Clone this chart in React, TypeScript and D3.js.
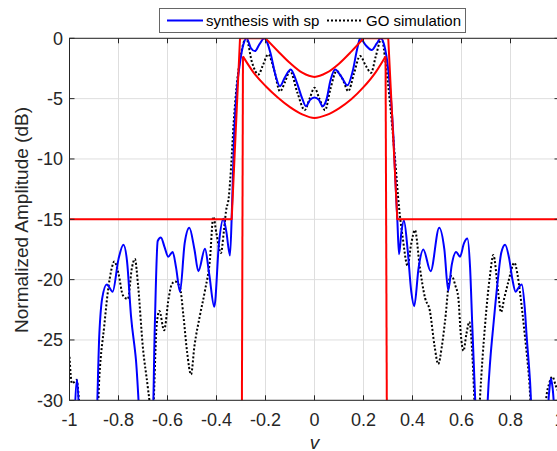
import React from "react";
import * as d3 from "d3";

// tick values
const xTicks = [-1, -0.8, -0.6, -0.4, -0.2, 0, 0.2, 0.4, 0.6, 0.8, 1];
const yTicks = [-30, -25, -20, -15, -10, -5, 0];

// synthesis with sp (v, dB)
const synthesis: [number, number][] = [
  [-0.982, -33], [-0.969, -28.3], [-0.955, -33],
  [-0.893, -33], [-0.878, -24.4], [-0.867, -21.6], [-0.848, -20.4], [-0.824, -21.0],
  [-0.8, -18.3], [-0.78, -17.1], [-0.765, -18.5], [-0.749, -23.0], [-0.729, -26.6], [-0.705, -33],
  [-0.662, -33], [-0.652, -24], [-0.64, -16.8], [-0.627, -16.5], [-0.612, -17.3], [-0.597, -18.1],
  [-0.579, -17.7], [-0.565, -19], [-0.549, -21.0], [-0.53, -17], [-0.511, -15.7], [-0.49, -17.5],
  [-0.474, -19.3], [-0.447, -17.45], [-0.43, -19.5], [-0.409, -22.25], [-0.39, -17], [-0.372, -14.96],
  [-0.36, -16], [-0.345, -18.0], [-0.336, -13.5], [-0.328, -8], [-0.316, -4], [-0.304, -2],
  [-0.29, -0.5], [-0.277, 0], [-0.26, -0.8], [-0.243, -1.06], [-0.225, -0.5], [-0.205, 0],
  [-0.18, -1.2], [-0.16, -3.0], [-0.141, -3.97], [-0.12, -3.2], [-0.097, -2.58], [-0.075, -3.5],
  [-0.05, -5.0], [-0.035, -5.63], [-0.018, -5.1], [0, -4.9], [0.018, -5.1], [0.033, -5.63],
  [0.05, -5.0], [0.065, -3.5], [0.084, -2.58], [0.11, -3.2], [0.134, -3.9], [0.155, -2.8],
  [0.175, -0.8], [0.186, 0], [0.21, -0.6], [0.233, -0.97], [0.255, -0.4], [0.27, 0],
  [0.285, -0.6], [0.301, -2.6], [0.312, -5], [0.322, -8.1], [0.333, -13], [0.338, -15],
  [0.345, -17.9], [0.355, -16], [0.365, -15.1], [0.38, -17.5], [0.395, -21], [0.407, -22.2],
  [0.425, -19], [0.444, -17.5], [0.474, -19.3], [0.509, -15.7], [0.53, -17.5], [0.546, -20.9],
  [0.56, -18.8], [0.578, -17.7], [0.594, -18.1], [0.61, -17.0], [0.624, -16.6], [0.635, -19],
  [0.644, -23.8], [0.656, -30], [0.665, -34],
  [0.7, -34], [0.707, -30], [0.718, -26.5], [0.73, -23.8], [0.75, -19.7], [0.762, -17.8],
  [0.778, -17.1], [0.795, -18.3], [0.808, -20.0], [0.821, -21.0], [0.835, -20.6], [0.846, -20.4],
  [0.858, -22.3], [0.866, -24.7], [0.88, -28.5], [0.892, -33],
  [0.945, -33], [0.957, -29.5], [0.965, -28.2], [0.972, -29], [0.985, -33],
];

// GO simulation (v, dB)
const goSim: [number, number][] = [
  [-1, -26.4], [-0.99, -28.6], [-0.982, -28.5], [-0.972, -28.3], [-0.96, -30.5], [-0.955, -33],
  [-0.89, -33], [-0.878, -28], [-0.858, -23.8], [-0.844, -21.1], [-0.827, -19.0], [-0.817, -18.5],
  [-0.8, -19.5], [-0.782, -21.3], [-0.762, -21.6], [-0.745, -19], [-0.733, -18.3], [-0.72, -20.5],
  [-0.701, -25.5], [-0.68, -29], [-0.672, -30.5], [-0.664, -34], [-0.656, -30], [-0.644, -23.7],
  [-0.633, -22.6], [-0.614, -24.2], [-0.595, -21.5], [-0.583, -20.4], [-0.569, -20.15], [-0.549, -20.65],
  [-0.535, -23], [-0.52, -26], [-0.504, -27.85], [-0.49, -25.5], [-0.467, -22.9], [-0.447, -20.9],
  [-0.427, -18.4], [-0.413, -14.8], [-0.4, -16.2], [-0.382, -17.8], [-0.37, -16], [-0.361, -14.3],
  [-0.35, -13.2], [-0.34, -10.5], [-0.33, -7], [-0.318, -4], [-0.3, -1.3], [-0.279, 0],
  [-0.255, -2.0], [-0.229, -3.0], [-0.21, -2.2], [-0.189, -1.33], [-0.165, -2.6], [-0.141, -4.4],
  [-0.12, -3.6], [-0.1, -2.7], [-0.07, -4.5], [-0.04, -5.95], [-0.02, -5.0], [0, -4.1],
  [0.02, -5.0], [0.043, -5.96], [0.065, -4.2], [0.09, -2.72], [0.115, -3.4], [0.138, -4.38],
  [0.16, -3.0], [0.186, -1.47], [0.21, -2.3], [0.231, -2.86], [0.25, -1.5], [0.274, 0],
  [0.29, -2.0], [0.308, -5.35], [0.329, -10.06], [0.345, -14], [0.36, -16.5], [0.38, -18.85],
  [0.395, -17], [0.41, -15.9], [0.43, -19], [0.451, -21.5], [0.471, -22.6], [0.49, -25.5],
  [0.505, -27.0], [0.52, -25.5], [0.533, -23.4], [0.553, -19.8], [0.56, -19.7], [0.575, -20.5],
  [0.587, -21.5], [0.597, -24.5], [0.608, -25.9], [0.62, -24.5], [0.632, -23.5], [0.645, -26.5],
  [0.655, -31], [0.665, -34], [0.675, -30], [0.696, -23.8], [0.716, -19.7], [0.73, -17.96],
  [0.75, -21.1], [0.761, -22.7], [0.775, -21.5], [0.791, -20.2], [0.816, -18.6], [0.828, -19.5],
  [0.839, -21.1], [0.859, -24.7], [0.875, -28], [0.893, -33],
  [0.94, -33], [0.945, -30], [0.958, -28.6], [0.971, -28.05], [0.985, -28.8], [1, -29.5],
];

// upper mask: straight pieces and the bowl
const upperLeft: [number, number][] = [[-1, -15], [-0.338, -15], [-0.304, 0], [-0.2, 0]];
const upperBowl: [number, number][] = [
  [-0.2, 0], [-0.15, -1.05], [-0.1, -2.05], [-0.05, -2.85], [0, -3.2],
  [0.05, -2.85], [0.1, -2.1], [0.15, -1.1], [0.2, 0],
];
const upperRight: [number, number][] = [[0.2, 0], [0.301, 0], [0.338, -15], [1, -15]];

// lower mask
const lowerLeftEdge: [number, number][] = [[-0.297, -35], [-0.292, -1.5]];
const lowerBowl: [number, number][] = [
  [-0.292, -1.5], [-0.25, -2.8], [-0.2, -3.95], [-0.15, -4.9], [-0.1, -5.7], [-0.05, -6.3], [0, -6.6],
  [0.05, -6.35], [0.1, -5.8], [0.15, -5.05], [0.2, -4.05], [0.25, -2.8], [0.29, -1.5],
];
const lowerRightEdge: [number, number][] = [[0.29, -1.5], [0.296, -35]];

const W = 557;
const H = 451;
const plot = { left: 69.5, right: 559.5, top: 38.3, bottom: 400.3 };
const font = "'Liberation Sans', Arial, Helvetica, sans-serif";
const axisColor = "#262626";

export default function App() {
  const x = d3.scaleLinear().domain([-1, 1]).range([plot.left, plot.right]);
  const y = d3.scaleLinear().domain([-30, 0]).range([plot.bottom, plot.top]);

  const smooth = d3
    .line<[number, number]>()
    .x((d) => x(d[0]))
    .y((d) => y(d[1]))
    .curve(d3.curveMonotoneX);
  const straight = d3
    .line<[number, number]>()
    .x((d) => x(d[0]))
    .y((d) => y(d[1]));

  const fmt = (v: number) => (Math.abs(v) < 1e-9 ? "0" : String(+v.toFixed(1)));

  return (
    <svg
      width={W}
      height={H}
      style={{ position: "absolute", left: 0, top: 0, background: "#fff" }}
    >
      <defs>
        <clipPath id="plotClip">
          <rect
            x={plot.left}
            y={plot.top}
            width={plot.right - plot.left}
            height={plot.bottom - plot.top}
          />
        </clipPath>
      </defs>

      {/* grid */}
      <g stroke="#dedede" strokeWidth={1}>
        {xTicks.map((t) => (
          <line key={"gx" + t} x1={x(t)} x2={x(t)} y1={plot.top} y2={plot.bottom} />
        ))}
        {yTicks.map((t) => (
          <line key={"gy" + t} x1={plot.left} x2={plot.right} y1={y(t)} y2={y(t)} />
        ))}
      </g>

      {/* curves */}
      <g clipPath="url(#plotClip)" fill="none" strokeLinejoin="round">
        <path d={smooth(goSim) ?? ""} stroke="#000" strokeWidth={2} strokeDasharray="2 2" />
        <path d={smooth(synthesis) ?? ""} stroke="#0000ff" strokeWidth={2} />
        <g stroke="#ff0000" strokeWidth={2}>
          <path d={straight(upperLeft) ?? ""} />
          <path d={smooth(upperBowl) ?? ""} />
          <path d={straight(upperRight) ?? ""} />
          <path d={straight(lowerLeftEdge) ?? ""} />
          <path d={smooth(lowerBowl) ?? ""} />
          <path d={straight(lowerRightEdge) ?? ""} />
        </g>
      </g>

      {/* axes box */}
      <rect
        x={plot.left}
        y={plot.top}
        width={plot.right - plot.left}
        height={plot.bottom - plot.top}
        fill="none"
        stroke={axisColor}
        strokeWidth={1}
      />
      <g stroke={axisColor} strokeWidth={1}>
        {xTicks.map((t) => (
          <g key={"tx" + t}>
            <line x1={x(t)} x2={x(t)} y1={plot.bottom} y2={plot.bottom - 5} />
            <line x1={x(t)} x2={x(t)} y1={plot.top} y2={plot.top + 5} />
          </g>
        ))}
        {yTicks.map((t) => (
          <g key={"ty" + t}>
            <line x1={plot.left} x2={plot.left + 5} y1={y(t)} y2={y(t)} />
            <line x1={plot.right} x2={plot.right - 5} y1={y(t)} y2={y(t)} />
          </g>
        ))}
      </g>

      {/* tick labels */}
      <g fontFamily={font} fontSize={18} fill={axisColor}>
        {xTicks.map((t) => (
          <text key={"lx" + t} x={x(t)} y={426} textAnchor="middle">
            {fmt(t)}
          </text>
        ))}
        {yTicks.map((t) => (
          <text key={"ly" + t} x={63} y={y(t) + 6.5} textAnchor="end">
            {fmt(t)}
          </text>
        ))}
      </g>

      {/* axis labels */}
      <text
        x={314.5}
        y={449}
        textAnchor="middle"
        fontFamily={font}
        fontSize={19}
        fontStyle="italic"
        fill={axisColor}
      >
        v
      </text>
      <text
        transform={`translate(28, ${220}) rotate(-90)`}
        textAnchor="middle"
        fontFamily={font}
        fontSize={19}
        fill={axisColor}
      >
        Normalized Amplitude (dB)
      </text>

      {/* legend */}
      <g fontFamily={font} fontSize={15} fill="#000">
        <rect x={159.5} y={8.5} width={306} height={24} fill="#fff" stroke="#666" strokeWidth={1} />
        <line x1={167} x2={203} y1={20.5} y2={20.5} stroke="#0000ff" strokeWidth={2} />
        <text x={206} y={26}>synthesis with sp</text>
        <line x1={327} x2={361} y1={20.5} y2={20.5} stroke="#000" strokeWidth={2} strokeDasharray="2 2" />
        <text x={366} y={26}>GO simulation</text>
      </g>
    </svg>
  );
}
